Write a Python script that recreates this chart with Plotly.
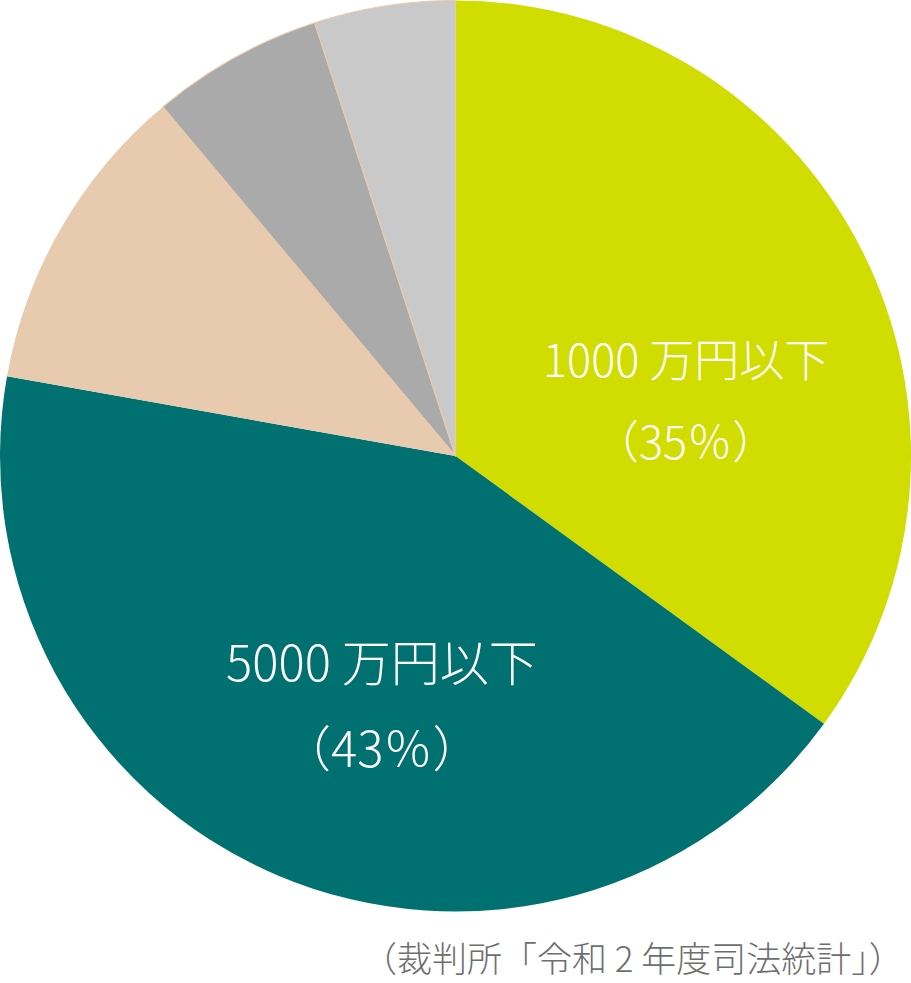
import plotly.graph_objects as go

# 請求額の区分と割合（%）
categories = ["1000万円以下", "5000万円以下", "1億円以下", "5億円以下", "5億円超"]
shares = [35.0, 42.8, 11.1, 6.1, 5.0]
colors = ["#D1DC00", "#007170", "#E8CBAF", "#AAAAAA", "#C9C9C9"]
line_colors = ["rgba(0,0,0,0)", "rgba(0,0,0,0)", "rgba(0,0,0,0)", "#E8CBAF", "#E8CBAF"]
line_widths = [0, 0, 0, 1.2, 1.2]

label_lines = [
    ("1000 万円以下", "（35％）", 0.753, 0.636, 0.553, 45),
    ("5000 万円以下", "（43％）", 0.419, 0.329, 0.242, 49),
]
source = "（裁判所「令和 2 年度司法統計」）"

jp_font = "Noto Sans CJK JP"

fig = go.Figure(go.Pie(
    labels=categories,
    values=shares,
    sort=False,
    direction="clockwise",
    rotation=0,
    textinfo="none",
    hoverinfo="label+percent",
    marker=dict(colors=colors, line=dict(color=line_colors, width=line_widths)),
    domain=dict(x=[0, 1], y=[71 / 983, 1]),
    showlegend=False,
))

for top, bottom, x, y1, y2, size in label_lines:
    for txt, y in ((top, y1), (bottom, y2)):
        fig.add_annotation(
            text=txt, x=x, y=y, xref="paper", yref="paper",
            showarrow=False, xanchor="center", yanchor="middle",
            font=dict(family=jp_font, size=size, color="white", weight=300),
        )

fig.add_annotation(
    text=source, x=0.994, y=0.027, xref="paper", yref="paper",
    showarrow=False, xanchor="right", yanchor="middle",
    font=dict(family=jp_font, size=35, color="#6E6E6E", weight=300),
)

fig.update_layout(
    width=911, height=983,
    margin=dict(l=0, r=0, t=0, b=0),
    paper_bgcolor="white", plot_bgcolor="white",
)

# ページ既定の余白を消して図を左上に揃える
fig.write_html("out.html", config={"displayModeBar": False},
               post_script="document.body.style.margin='0';")
